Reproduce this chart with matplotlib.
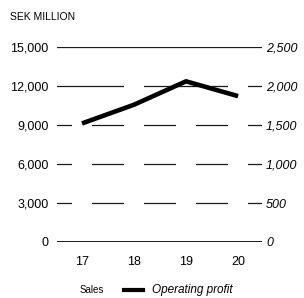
import matplotlib
matplotlib.use("Agg")
import matplotlib.pyplot as plt
from matplotlib.lines import Line2D

plt.rcParams['font.family'] = ['Liberation Sans', 'DejaVu Sans']

years = ["17", "18", "19", "20"]
sales = [10500, 13500, 11000, 13200]          # white bars, only visible as gaps in the grid
operating_profit = [1520, 1760, 2060, 1870]
left_ticks = [0, 3000, 6000, 9000, 12000, 15000]
right_ticks = [0, 500, 1000, 1500, 2000, 2500]

W, H = 304, 298
fig = plt.figure(figsize=(W / 100, H / 100), dpi=100)
ax = fig.add_axes([57 / W, 1 - 242 / H, 205 / W, 195 / H])
ax2 = ax.twinx()

x = range(len(years))
for t in left_ticks:
    ax.axhline(t, color='#1a1a1a', lw=0.9 if t else 1.4, zorder=3 if t == 0 else 1)
ax.bar(x, sales, width=0.38, color='white', zorder=2)

ax.set_xlim(-0.48, 3.46)
ax.set_ylim(0, 15000)
ax.set_yticks(left_ticks)
ax.set_yticklabels([f"{t:,}" for t in left_ticks], fontsize=9)
ax.set_xticks(list(x))
ax.set_xticklabels(years, fontsize=9)
ax.tick_params(length=0)
ax.tick_params(axis='y', pad=6)
ax.tick_params(axis='x', pad=10)

ax2.plot(x, operating_profit, color='black', lw=3.3, solid_capstyle='butt')
ax2.set_ylim(0, 2500)
ax2.set_yticks(right_ticks)
ax2.set_yticklabels([f"{t:,}" for t in right_ticks], fontsize=9, style='italic')
ax2.tick_params(length=0, pad=3)

for a in (ax, ax2):
    for s in a.spines.values():
        s.set_visible(False)

fig.text(10 / W, 1 - 17 / H, "SEK MILLION", fontsize=7.5, va='center')

# legend, placed by hand
ly = 1 - 290 / H
fig.text(80 / W, ly, "Sales", fontsize=7, va='center')
fig.add_artist(Line2D([124 / W, 143 / W], [ly, ly], color='black', lw=3,
                      transform=fig.transFigure))
fig.text(152 / W, ly, "Operating profit", fontsize=8.5, style='italic', va='center')

fig.savefig("out.png", dpi=100)
